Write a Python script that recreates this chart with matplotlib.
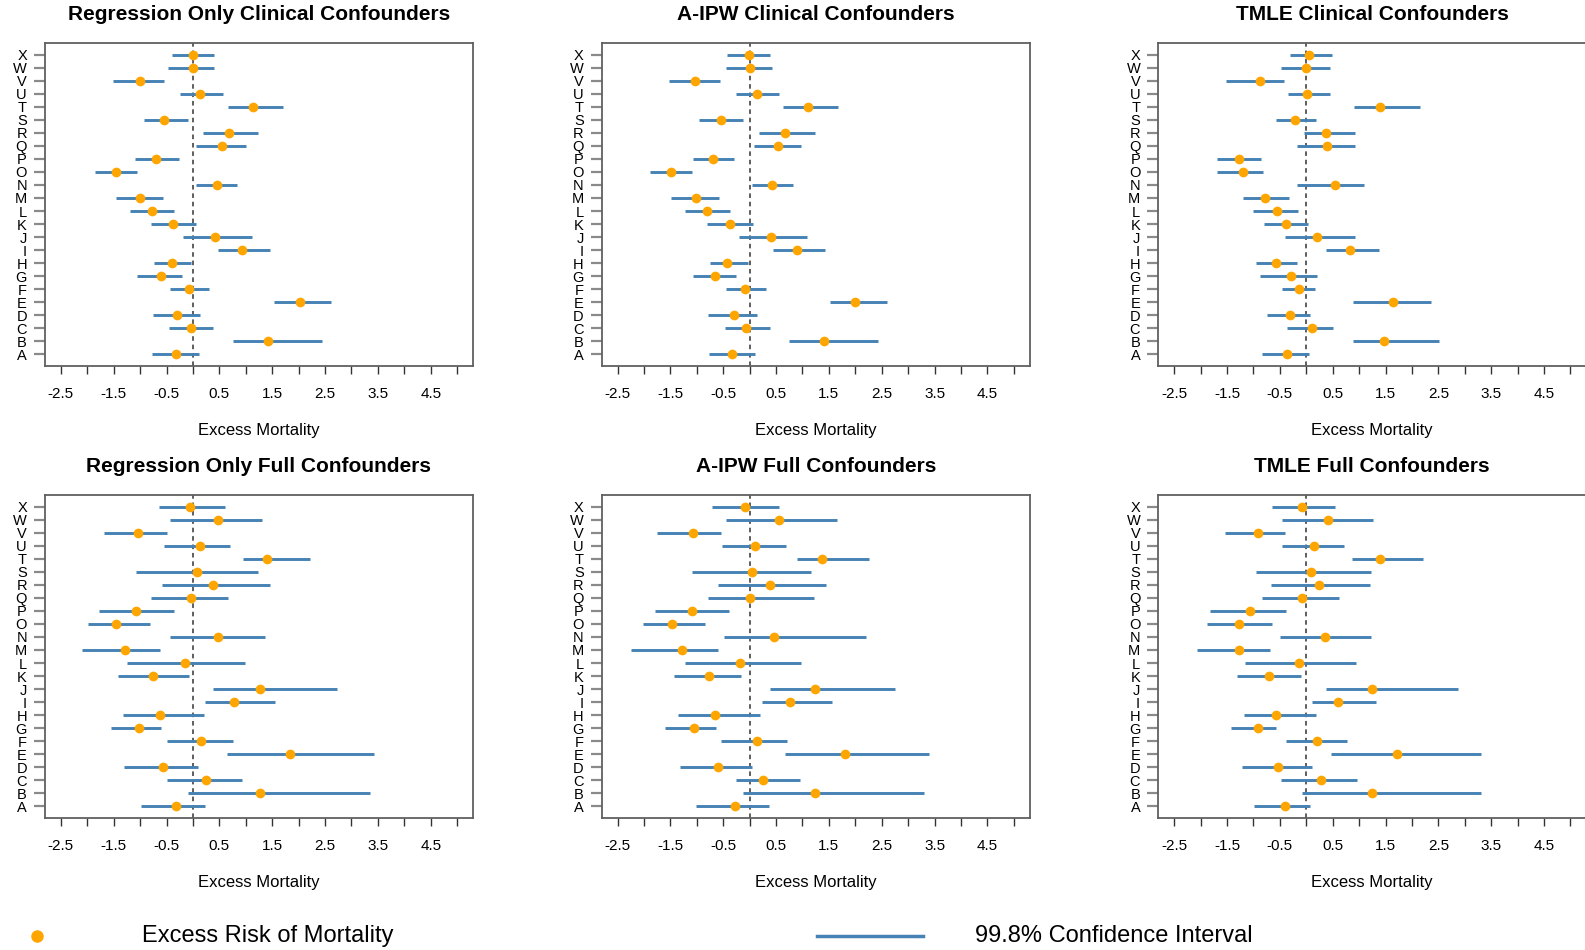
import matplotlib
matplotlib.use("Agg")
import matplotlib.pyplot as plt
from matplotlib.lines import Line2D
import numpy as np

plt.rcParams["font.family"] = ["Liberation Sans", "DejaVu Sans"]

labels = list("ABCDEFGHIJKLMNOPQRSTUVWX")
x_ticks = [-2.5, -2, -1.5, -1, -0.5, 0, 0.5, 1, 1.5, 2, 2.5, 3, 3.5, 4, 4.5, 5]
x_ticklabels = ["-2.5", "", "-1.5", "", "-0.5", "", "0.5", "", "1.5", "", "2.5", "", "3.5", "", "4.5", ""]

titles = [
    "Regression Only Clinical Confounders", "A-IPW Clinical Confounders", "TMLE Clinical Confounders",
    "Regression Only Full Confounders", "A-IPW Full Confounders", "TMLE Full Confounders",
]

# estimates and 99.8% CI bounds, rows A..X
reg_clin_est = [-0.33, 1.42, -0.04, -0.30, 2.02, -0.08, -0.61, -0.40, 0.92, 0.42, -0.38, -0.78,
                -1.00, 0.45, -1.46, -0.70, 0.55, 0.68, -0.54, 1.13, 0.14, -1.01, 0.00, 0.00]
reg_clin_lo = [-0.78, 0.76, -0.45, -0.76, 1.54, -0.44, -1.05, -0.73, 0.48, -0.18, -0.79, -1.20,
               -1.45, 0.05, -1.85, -1.10, 0.05, 0.19, -0.93, 0.66, -0.25, -1.51, -0.48, -0.40]
reg_clin_hi = [0.11, 2.45, 0.38, 0.13, 2.62, 0.30, -0.20, -0.03, 1.45, 1.12, 0.06, -0.35,
               -0.56, 0.84, -1.06, -0.26, 1.00, 1.24, -0.10, 1.71, 0.57, -0.55, 0.39, 0.40]

aipw_clin_est = [-0.33, 1.40, -0.06, -0.30, 2.00, -0.08, -0.65, -0.42, 0.90, 0.40, -0.38, -0.80,
                 -1.01, 0.43, -1.49, -0.69, 0.54, 0.67, -0.55, 1.10, 0.13, -1.03, 0.01, -0.01]
aipw_clin_lo = [-0.77, 0.75, -0.47, -0.78, 1.53, -0.45, -1.08, -0.75, 0.45, -0.20, -0.81, -1.23,
                -1.48, 0.05, -1.88, -1.08, 0.09, 0.18, -0.96, 0.64, -0.26, -1.52, -0.44, -0.42]
aipw_clin_hi = [0.11, 2.42, 0.38, 0.14, 2.59, 0.30, -0.25, -0.04, 1.43, 1.09, 0.06, -0.38,
                -0.58, 0.82, -1.10, -0.29, 0.98, 1.23, -0.12, 1.68, 0.56, -0.57, 0.43, 0.38]

tmle_clin_est = [-0.37, 1.48, 0.11, -0.30, 1.65, -0.14, -0.28, -0.58, 0.82, 0.21, -0.38, -0.55,
                 -0.79, 0.54, -1.20, -1.27, 0.39, 0.38, -0.22, 1.40, 0.01, -0.87, -0.01, 0.06]
tmle_clin_lo = [-0.84, 0.88, -0.37, -0.75, 0.88, -0.45, -0.88, -0.95, 0.37, -0.41, -0.80, -1.00,
                -1.20, -0.18, -1.68, -1.69, -0.18, -0.05, -0.57, 0.91, -0.35, -1.52, -0.48, -0.31]
tmle_clin_hi = [0.06, 2.51, 0.50, 0.08, 2.36, 0.17, 0.20, -0.17, 1.37, 0.93, 0.03, -0.15,
                -0.33, 1.10, -0.82, -0.86, 0.93, 0.93, 0.19, 2.15, 0.44, -0.43, 0.44, 0.49]

reg_full_est = [-0.32, 1.26, 0.25, -0.57, 1.83, 0.16, -1.02, -0.63, 0.77, 1.26, -0.75, -0.15,
                -1.28, 0.47, -1.45, -1.08, -0.04, 0.38, 0.08, 1.41, 0.13, -1.04, 0.48, -0.05]
reg_full_lo = [-0.98, -0.10, -0.50, -1.30, 0.65, -0.50, -1.55, -1.32, 0.23, 0.38, -1.41, -1.24,
               -2.10, -0.43, -1.98, -1.77, -0.80, -0.59, -1.08, 0.94, -0.54, -1.68, -0.43, -0.65]
reg_full_hi = [0.23, 3.36, 0.93, 0.09, 3.42, 0.76, -0.60, 0.20, 1.55, 2.72, -0.08, 0.99,
               -0.62, 1.37, -0.82, -0.35, 0.66, 1.46, 1.24, 2.22, 0.70, -0.50, 1.31, 0.60]

aipw_full_est = [-0.28, 1.24, 0.25, -0.60, 1.81, 0.13, -1.05, -0.66, 0.76, 1.23, -0.77, -0.18,
                 -1.28, 0.47, -1.47, -1.10, 0.01, 0.38, 0.05, 1.37, 0.10, -1.07, 0.56, -0.08]
aipw_full_lo = [-1.02, -0.13, -0.26, -1.31, 0.67, -0.55, -1.60, -1.35, 0.23, 0.38, -1.43, -1.23,
                -2.25, -0.49, -2.01, -1.79, -0.78, -0.59, -1.10, 0.89, -0.53, -1.75, -0.45, -0.71]
aipw_full_hi = [0.36, 3.30, 0.95, 0.04, 3.40, 0.71, -0.64, 0.19, 1.56, 2.76, -0.16, 0.97,
                -0.59, 2.20, -0.84, -0.39, 1.21, 1.45, 1.16, 2.26, 0.68, -0.54, 1.66, 0.56]

tmle_full_est = [-0.41, 1.24, 0.27, -0.53, 1.71, 0.21, -0.91, -0.57, 0.60, 1.24, -0.70, -0.14,
                 -1.27, 0.36, -1.28, -1.07, -0.08, 0.25, 0.09, 1.39, 0.14, -0.92, 0.42, -0.08]
tmle_full_lo = [-0.98, -0.08, -0.47, -1.22, 0.47, -0.38, -1.42, -1.18, 0.10, 0.37, -1.32, -1.15,
                -2.07, -0.50, -1.87, -1.83, -0.83, -0.67, -0.96, 0.87, -0.45, -1.53, -0.45, -0.64]
tmle_full_hi = [0.08, 3.31, 0.96, 0.10, 3.31, 0.77, -0.58, 0.18, 1.32, 2.88, -0.09, 0.95,
                -0.68, 1.22, -0.64, -0.39, 0.62, 1.20, 1.23, 2.21, 0.71, -0.40, 1.27, 0.54]

panels = [
    (reg_clin_est, reg_clin_lo, reg_clin_hi),
    (aipw_clin_est, aipw_clin_lo, aipw_clin_hi),
    (tmle_clin_est, tmle_clin_lo, tmle_clin_hi),
    (reg_full_est, reg_full_lo, reg_full_hi),
    (aipw_full_est, aipw_full_lo, aipw_full_hi),
    (tmle_full_est, tmle_full_lo, tmle_full_hi),
]

W, H = 1585, 950
fig = plt.figure(figsize=(W / 100, H / 100), dpi=100)

ci_col = "#4682B4"
pt_col = "#FFA500"
box_col = "#606060"

lefts = [45, 601.7, 1158.3]
bottoms = [366, 818]
ax_w, ax_h = 428, 323

ypos = np.arange(1, len(labels) + 1)

for i, (est, lo, hi) in enumerate(panels):
    r, c = divmod(i, 3)
    ax = fig.add_axes([lefts[c] / W, 1 - bottoms[r] / H, ax_w / W, ax_h / H])
    ax.hlines(ypos, lo, hi, color=ci_col, lw=2.1, zorder=2)
    ax.plot(est, ypos, "o", color=pt_col, ms=7, mec="none", zorder=3)
    ax.axvline(0, color="#333333", lw=1.1, ls=(0, (3, 2.5)), zorder=1)
    ax.set_xlim(-2.8, 5.3)
    ax.set_ylim(0.08, 24.92)
    ax.set_xticks(x_ticks)
    ax.set_xticklabels(x_ticklabels, fontsize=11)
    ax.set_yticks(ypos)
    ax.set_yticklabels(labels, fontsize=10.5)
    ax.tick_params(axis="x", length=6, width=1, color="#333333", pad=9)
    ax.tick_params(axis="y", length=8, width=1.6, color="#8a8a8a", pad=5)
    for sp in ax.spines.values():
        sp.set_color(box_col)
        sp.set_linewidth(1.3)
    ax.text(0.5, -0.2, "Excess Mortality", transform=ax.transAxes,
            ha="center", va="center", fontsize=12)
    ax.text(0.5, 1.0 + 28 / ax_h, titles[i], transform=ax.transAxes,
            ha="center", va="center", fontsize=15, fontweight="bold")

# legend row at the bottom
ly = 1 - 936 / H
fig.add_artist(Line2D([37 / W], [ly], marker="o", color=pt_col, ms=9, mec="none",
                      transform=fig.transFigure))
fig.text(142 / W, ly, "Excess Risk of Mortality", ha="left", va="center", fontsize=17)
fig.add_artist(Line2D([817 / W, 923 / W], [ly, ly], color=ci_col, lw=2.5,
                      transform=fig.transFigure))
fig.text(975 / W, ly, "99.8% Confidence Interval", ha="left", va="center", fontsize=17)

fig.savefig("out.png", dpi=100)
